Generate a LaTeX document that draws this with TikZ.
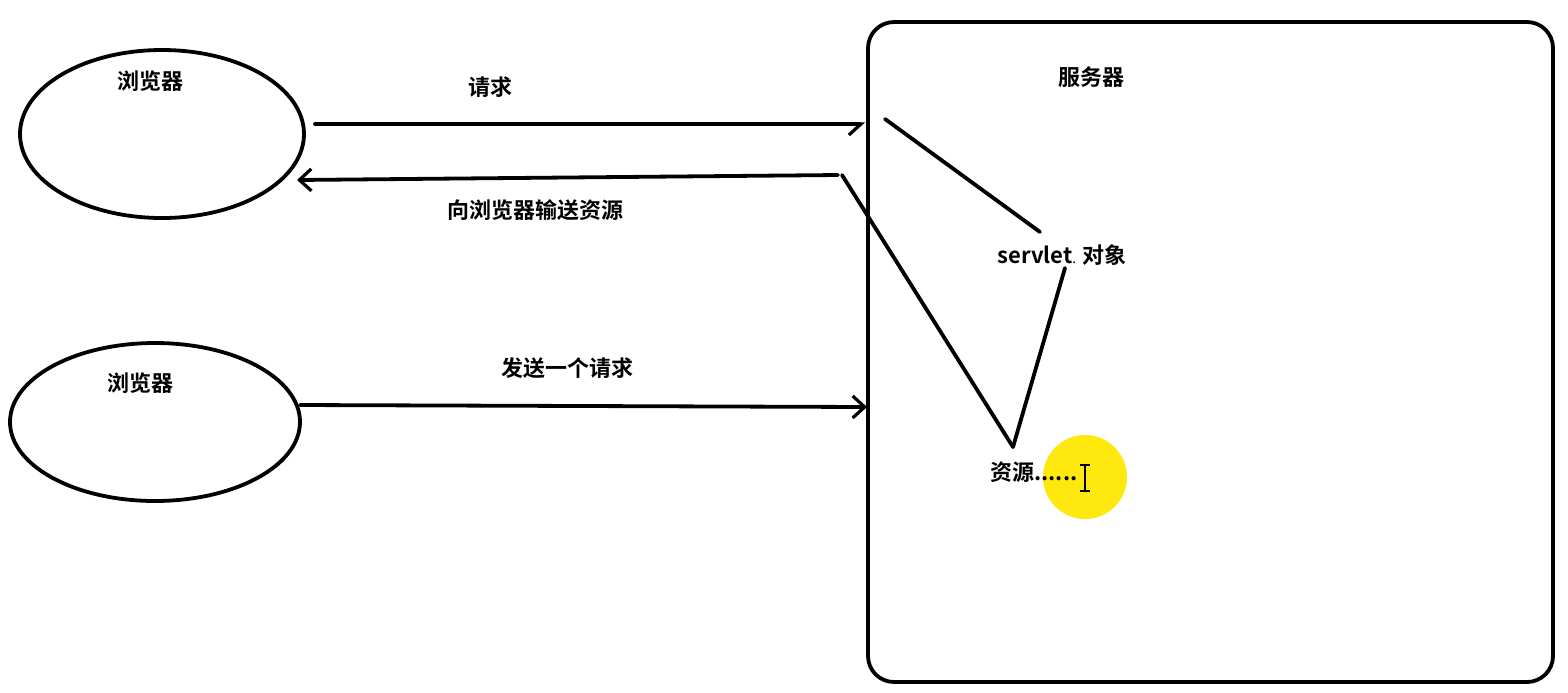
\documentclass[tikz,border=0pt]{standalone}
\usepackage{fontspec}
\newfontfamily\cjk{Noto Sans CJK SC}[BoldFont={* Bold}]
\usetikzlibrary{arrows.meta}
\begin{document}
\begin{tikzpicture}[x=0.5pt,y=-0.5pt,
  lbl/.style={font=\cjk\bfseries\fontsize{11}{12}\selectfont, inner sep=0pt},
  ln/.style={line width=1.9pt, line cap=round},
  arr/.style={ln, -{Straight Barb[length=6pt,width=11pt,line width=1.6pt]}},
  harr/.style={ln, -{Straight Barb[length=6pt,width=11pt,line width=1.6pt,harpoon,swap]}}]
\useasboundingbox (0,0) rectangle (1568,692);
\fill[white] (0,0) rectangle (1568,692);
% browsers
\draw[ln] (162,134) ellipse [x radius=142, y radius=84];
\draw[ln] (155,422) ellipse [x radius=145, y radius=79];
\node[lbl] (l1) at (150,81) {浏览器};
\node[lbl] (l2) at (140,383) {浏览器};
% server box
\draw[ln, rounded corners=13pt] (868,22) rectangle (1553,682);
\node[lbl] (srv) at (1091,77) {服务器};
% coordinates
\coordinate (a1s) at (315,124);
\coordinate (a1e) at (865,124);
\coordinate (a2s) at (838,175);
\coordinate (a2e) at (297,180);
\coordinate (a3s) at (300,405);
\coordinate (a3e) at (867,407);
\draw[harr] (a1s) -- (a1e);
\draw[arr] (a2s) -- (a2e);
\draw[arr] (a3s) -- (a3e);
\node[lbl] (t1) at (490,87) {请求};
\node[lbl] (t2) at (535,210) {向浏览器输送资源};
\node[lbl] (t3) at (567,368) {发送一个请求};
% servlet and resources
\node[lbl] (sv) at (1062,255) {servlet{\tiny.} 对象};
\fill[yellow!90!orange!95!white] (1085,477) circle [radius=42];
\node[lbl, anchor=west] (res) at (990,472) {资源\textbf{......}};
% I-beam cursor
\draw[line width=0.8pt] (1085,466) -- (1085,490)
  (1080,465) -- (1090,465) (1080,491) -- (1090,491);
\coordinate (p1) at (885,119);
\coordinate (p2) at (1040,232);
\coordinate (p3) at (1065,268);
\coordinate (p4) at (1013,447);
\coordinate (p5) at (842,175);
\draw[ln] (p1) -- (p2);
\draw[ln] (p3) -- (p4);
\draw[ln] (p5) -- (p4);
\end{tikzpicture}
\end{document}
